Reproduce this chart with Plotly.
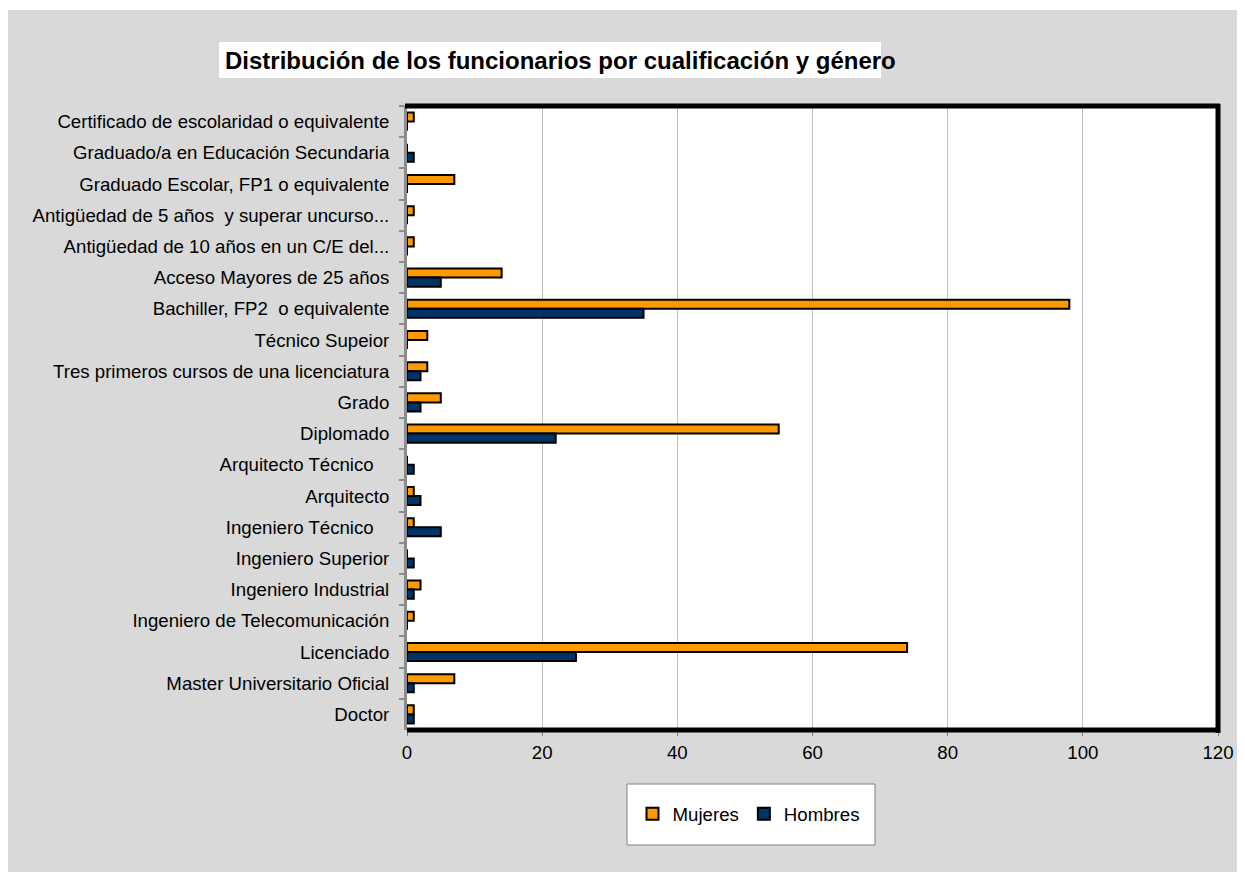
import plotly.graph_objects as go

categories = [
    "Certificado de escolaridad o equivalente",
    "Graduado/a en Educación Secundaria",
    "Graduado Escolar, FP1 o equivalente",
    "Antigüedad de 5 años\u00a0 y superar uncurso...",
    "Antigüedad de 10 años en un C/E del...",
    "Acceso Mayores de 25 años",
    "Bachiller, FP2\u00a0 o equivalente",
    "Técnico Supeior",
    "Tres primeros cursos de una licenciatura",
    "Grado",
    "Diplomado",
    "Arquitecto Técnico\u00a0\u00a0\u00a0",
    "Arquitecto",
    "Ingeniero Técnico\u00a0\u00a0\u00a0",
    "Ingeniero Superior",
    "Ingeniero Industrial",
    "Ingeniero de Telecomunicación",
    "Licenciado",
    "Master Universitario Oficial",
    "Doctor",
]
mujeres = [1, 0, 7, 1, 1, 14, 98, 3, 3, 5, 55, 0, 1, 1, 0, 2, 1, 74, 7, 1]
hombres = [0, 1, 0, 0, 0, 5, 35, 0, 2, 2, 22, 1, 2, 5, 1, 1, 0, 25, 1, 1]
x_ticks = [0, 20, 40, 60, 80, 100, 120]

FONT = "Arial, Liberation Sans, sans-serif"
FS = 18.67
OFF = 8  # page body margin
W, H = 1245 - OFF, 872 - OFF
L, T = 399, 98
R, B = W - 1210, H - 722
PW, PH = W - L - R, H - T - B


def px(x):
    # page pixel x -> paper coordinate
    return (x - OFF - L) / PW


def py(y):
    # page pixel y -> paper coordinate
    return (H - B - (y - OFF)) / PH


fig = go.Figure()
fig.add_trace(go.Bar(
    y=categories, x=mujeres, name="Mujeres", orientation="h",
    marker=dict(color="#FF9900", line=dict(color="black", width=2)),
))
fig.add_trace(go.Bar(
    y=categories, x=hombres, name="Hombres", orientation="h",
    marker=dict(color="#003366", line=dict(color="black", width=2)),
))

shapes = [
    # thin white strip on top (page y 8..10)
    dict(type="rect", xref="paper", yref="paper", x0=px(0), x1=px(1245), y0=py(10), y1=py(8),
         fillcolor="white", line=dict(width=0), layer="below"),
    # title box
    dict(type="rect", xref="paper", yref="paper", x0=px(219), x1=px(881), y0=py(78), y1=py(42),
         fillcolor="white", line=dict(width=0), layer="below"),
    # legend box
    dict(type="rect", xref="paper", yref="paper", x0=px(627), x1=px(875), y0=py(845), y1=py(784),
         fillcolor="white", line=dict(color="#808080", width=1), layer="below"),
    # plot border: top, right, bottom
    dict(type="line", xref="paper", yref="paper", x0=px(405), x1=px(1220), y0=1.0, y1=1.0,
         line=dict(color="black", width=5)),
    dict(type="line", xref="paper", yref="paper", x0=1.0, x1=1.0, y0=py(733), y1=py(104),
         line=dict(color="black", width=5)),
    dict(type="line", xref="paper", yref="paper", x0=px(407), x1=px(1220), y0=0.0, y1=0.0,
         line=dict(color="black", width=5)),
]

fig.update_layout(
    width=W, height=H,
    margin=dict(l=L, r=R, t=T, b=B, pad=0),
    paper_bgcolor="#D9D9D9",
    plot_bgcolor="white",
    font=dict(family=FONT, size=FS, color="black"),
    barmode="group",
    bargap=0.42,
    bargroupgap=0,
    showlegend=True,
    legend=dict(
        orientation="h", x=px(749), xanchor="center", y=py(814), yanchor="middle",
        bgcolor="rgba(0,0,0,0)", font=dict(size=FS, family=FONT), itemwidth=30,
        traceorder="normal",
    ),
    shapes=shapes,
    annotations=[dict(
        text="<b>Distribución de los funcionarios por cualificación y género</b>",
        xref="paper", yref="paper", x=px(560), y=py(60), xanchor="center", yanchor="middle",
        showarrow=False, font=dict(size=24, family=FONT, color="black"),
    )],
)
fig.update_xaxes(
    range=[0, 120], tickvals=x_ticks, ticktext=[str(v) for v in x_ticks],
    showgrid=True, gridcolor="#C0C0C0", gridwidth=1,
    zeroline=False, showline=False,
    ticks="outside", ticklen=5, tickcolor="#808080",
    tickfont=dict(size=FS, family=FONT), ticklabelstandoff=1,
)
fig.update_yaxes(
    autorange="reversed", type="category",
    showline=True, linecolor="#8C8C8C", linewidth=3,
    ticks="outside", ticklen=5, tickcolor="#8C8C8C", tickwidth=2,
    tickson="boundaries", showgrid=False,
    tickfont=dict(size=FS, family=FONT), ticklabelstandoff=11,
)

fig.write_html("out.html")
